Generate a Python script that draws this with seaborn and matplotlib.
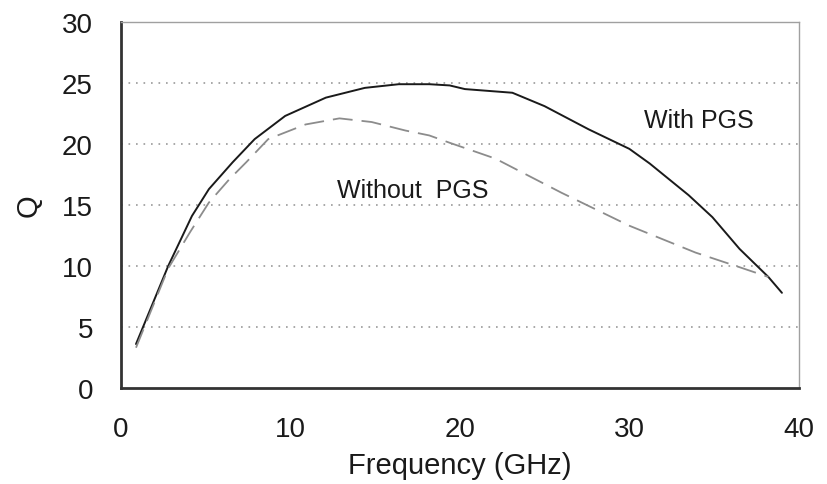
import numpy as np
import pandas as pd
import matplotlib
matplotlib.use("Agg")
import matplotlib.pyplot as plt
import seaborn as sns

# Data
freq_with = [0.9, 2.8, 4.2, 5.2, 6.6, 7.9, 9.7, 12.1, 14.4, 16.4, 18.2, 19.4, 20.3, 23.1, 25.0, 27.6, 30.0, 31.2, 33.5, 34.9, 36.5, 38.2, 39.0]
q_with = [3.6, 10.0, 14.1, 16.3, 18.5, 20.4, 22.3, 23.8, 24.6, 24.9, 24.9, 24.8, 24.5, 24.2, 23.1, 21.2, 19.6, 18.4, 15.8, 14.0, 11.4, 9.1, 7.8]

freq_without = [0.9, 2.8, 4.1, 5.2, 6.4, 7.4, 8.7, 10.9, 12.9, 14.8, 16.8, 18.2, 19.4, 22.1, 26.0, 30.0, 33.9, 36.5, 38.2]
q_without = [3.3, 9.8, 12.8, 15.2, 17.1, 18.5, 20.4, 21.6, 22.1, 21.8, 21.1, 20.7, 20.1, 18.8, 16.0, 13.3, 11.1, 9.9, 9.1]

x_ticks = [0, 10, 20, 30, 40]
y_ticks = [0, 5, 10, 15, 20, 25, 30]
label_with = "With PGS"
label_without = "Without  PGS"

df = pd.concat([
    pd.DataFrame({"Frequency": freq_with, "Q": q_with, "series": label_with}),
    pd.DataFrame({"Frequency": freq_without, "Q": q_without, "series": label_without}),
])

sns.set_style("white")
plt.rcParams["font.family"] = ["Liberation Sans", "DejaVu Sans"]

fig = plt.figure(figsize=(8.27, 4.85), dpi=100)
ax = fig.add_axes([0.146, 0.198, 0.82, 0.7546])

sns.lineplot(data=df[df.series == label_with], x="Frequency", y="Q", ax=ax,
             color="#1a1a1a", linewidth=1.4, sort=False, legend=False)
sns.lineplot(data=df[df.series == label_without], x="Frequency", y="Q", ax=ax,
             color="#8c8c8c", linewidth=1.3, sort=False, legend=False,
             dashes=False)
ax.lines[-1].set_dashes((11, 5))

ax.set_xlim(0, 40)
ax.set_ylim(0, 30)
ax.set_xticks(x_ticks)
ax.set_yticks(y_ticks)
ax.set_xticklabels([str(t) for t in x_ticks])
ax.set_yticklabels([str(t) for t in y_ticks])

for yv in y_ticks[1:-1]:
    ax.axhline(yv, color="#9a9a9a", linewidth=1.2, linestyle=(0, (1, 3.5)), zorder=0)

for side in ["left", "bottom"]:
    ax.spines[side].set_color("#333333")
    ax.spines[side].set_linewidth(2.0)
for side in ["top", "right"]:
    ax.spines[side].set_color("#a0a0a0")
    ax.spines[side].set_linewidth(1.0)
    ax.spines[side].set_visible(True)

ax.tick_params(axis="both", direction="in", length=7, width=1.2, color="#333333",
               labelsize=20, labelcolor="#1a1a1a")
ax.tick_params(axis="x", pad=20)
ax.tick_params(axis="y", pad=20)
ax.tick_params(axis="x", which="both", top=False)
ax.tick_params(axis="y", which="both", right=False)

ax.set_xlabel("Frequency (GHz)", fontsize=21, color="#1a1a1a", labelpad=7)
ax.set_ylabel("Q", fontsize=21, color="#1a1a1a", labelpad=14)

ax.text(17.2, 16.2, label_without, fontsize=18, color="#1a1a1a", ha="center", va="center")
ax.text(34.1, 22.0, label_with, fontsize=18, color="#1a1a1a", ha="center", va="center")

fig.savefig("out.png", dpi=100)
